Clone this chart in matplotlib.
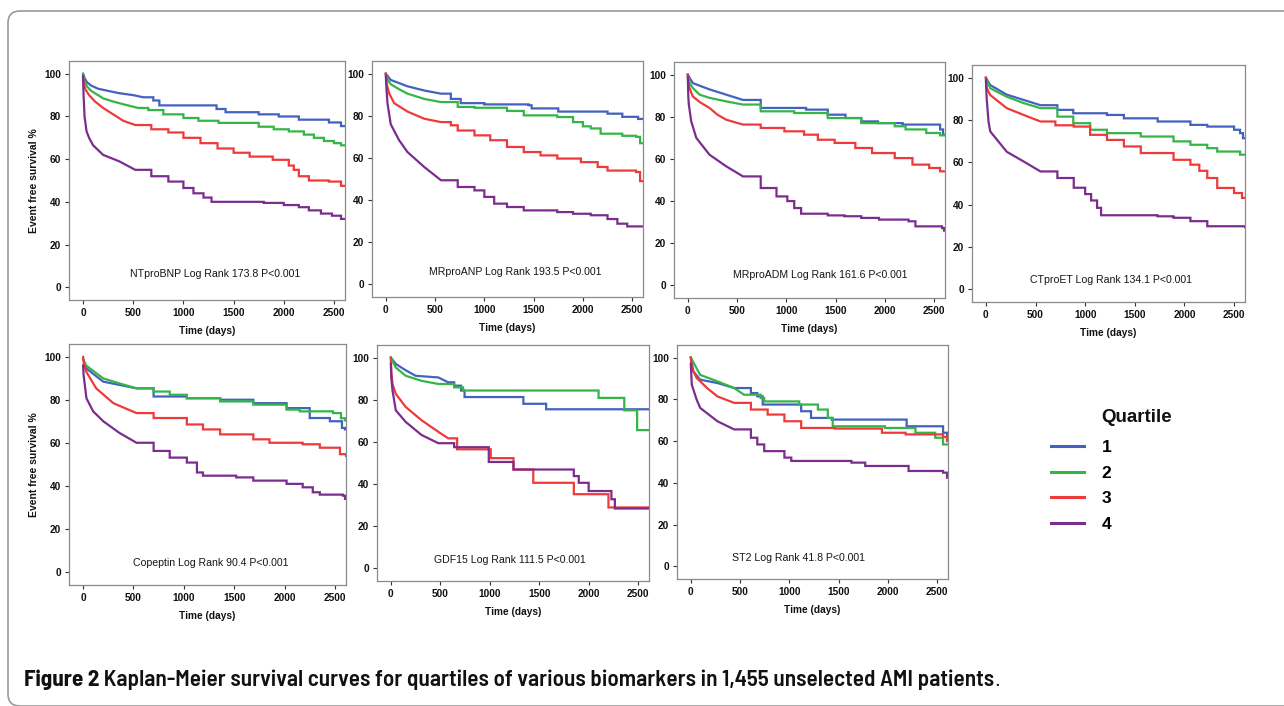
import os
import matplotlib
matplotlib.use("Agg")
import matplotlib.pyplot as plt
from matplotlib.patches import FancyBboxPatch
from matplotlib.transforms import IdentityTransform
from matplotlib import font_manager
from matplotlib.font_manager import FontProperties

plt.rcParams['font.family'] = ['Liberation Sans', 'DejaVu Sans']

W, H = 1284, 706

QUARTILES = ['1', '2', '3', '4']
COLORS = ['#4262bd', '#35b548', '#ee3a3a', '#7b2d8e']

PANEL_TEXT = [
    'NTproBNP Log Rank 173.8 P<0.001',
    'MRproANP Log Rank 193.5 P<0.001',
    'MRproADM Log Rank 161.6 P<0.001',
    'CTproET Log Rank 134.1 P<0.001',
    'Copeptin Log Rank 90.4 P<0.001',
    'GDF15 Log Rank 111.5 P<0.001',
    'ST2 Log Rank 41.8 P<0.001',
]

X_TICKS = [0, 500, 1000, 1500, 2000, 2500]
Y_TICKS = [0, 20, 40, 60, 80, 100]
X_LABEL = 'Time (days)'
Y_LABEL = 'Event free survival %'
LEGEND_TITLE = 'Quartile'
CAPTION_BOLD = 'Figure 2'
CAPTION_REST = ' Kaplan-Meier survival curves for quartiles of various biomarkers in 1,455 unselected AMI patients'

# (time in days, event free survival %) points
NTPROBNP_Q1 = [(0,100),(15,98),(40,96),(80,94.5),(150,93),(250,92),(350,91),(500,90),(600,89),(700,87.5),(760,85.2),(1330,83.5),(1420,82),(1750,81),(1950,80),(2150,78.5),(2450,77.2),(2570,75.5),(2610,75.5)]
NTPROBNP_Q2 = [(0,100),(10,97),(40,94),(80,92),(150,90),(200,88.5),(300,87),(420,85.5),(550,84),(650,83),(800,81),(1000,79.3),(1150,78),(1350,77),(1750,75.2),(1900,74),(2050,73),(2200,71.5),(2300,70),(2400,68.5),(2500,67.5),(2570,66.5),(2610,66.5)]
NTPROBNP_Q3 = [(0,98),(5,96),(20,93),(60,90),(120,87),(200,84),(300,81),(400,78),(520,76),(680,74),(850,72.5),(1000,70),(1170,67.5),(1340,65),(1500,63),(1660,61.2),(1890,59.7),(2050,57),(2100,55),(2150,52),(2250,50),(2450,49.5),(2570,47.5),(2610,47.5)]
NTPROBNP_Q4 = [(0,99),(5,90),(15,80),(35,73),(60,70),(100,66.5),(200,62),(360,59),(520,55),(680,52),(850,49.5),(1000,46.5),(1100,44),(1200,42),(1280,40),(1800,39.5),(2000,38.5),(2150,37.5),(2250,36),(2370,34.5),(2480,33.5),(2570,32),(2610,32)]

MRPROANP_Q1 = [(0,100),(50,97),(220,94),(390,92),(560,90.5),(660,88),(760,86),(1000,85.4),(1450,85),(1480,83.5),(1750,82),(2250,81),(2400,79.5),(2560,78.5),(2610,78.5)]
MRPROANP_Q2 = [(0,100),(20,97),(50,95),(120,93),(220,90.5),(390,88),(560,86.5),(730,84.2),(900,83.8),(1230,82.3),(1400,80.2),(1740,79.4),(1900,77),(2000,75),(2080,74),(2180,71.5),(2400,70.5),(2540,70),(2580,67),(2610,67)]
MRPROANP_Q3 = [(0,100),(10,95),(35,90.5),(85,86),(220,82),(390,78.6),(560,77),(660,75.5),(730,73),(900,70.7),(1060,68.4),(1230,65.2),(1400,62.8),(1570,61.2),(1740,59.7),(1980,58),(2150,55.7),(2250,54),(2540,53.3),(2580,49),(2610,49)]
MRPROANP_Q4 = [(0,99),(8,92),(17,86),(50,76),(135,68.4),(220,62.8),(390,55.7),(560,49.4),(730,46.2),(900,44.6),(1000,41.5),(1100,38.3),(1230,36.7),(1400,35.1),(1740,34.3),(1900,33.5),(2080,32.8),(2250,31),(2350,28.8),(2450,27.5),(2610,27.5)]

MRPROADM_Q1 = [(0,100),(50,96),(220,93),(390,90.5),(560,88),(740,84.2),(1200,83.4),(1420,81),(1600,79.4),(1760,77.8),(1930,77),(2180,76.3),(2560,74),(2590,71.5),(2610,71.5)]
MRPROADM_Q2 = [(0,100),(20,96),(50,93.7),(120,90.5),(220,89),(390,87.3),(560,85.8),(740,82.6),(1080,81.8),(1420,79.4),(1760,77),(2100,75.5),(2210,74),(2420,72.3),(2560,71.2),(2610,71.2)]
MRPROADM_Q3 = [(0,100),(5,96),(17,93.7),(50,89.7),(120,87),(220,84.2),(300,81),(390,78.6),(560,76.3),(740,74.7),(980,73.1),(1180,71.5),(1320,69.1),(1490,67.6),(1700,65.2),(1870,62.8),(2100,60.4),(2280,57.3),(2450,55.7),(2560,54.1),(2610,54.1)]
MRPROADM_Q4 = [(0,99),(5,90),(10,86),(34,78),(86,70),(220,62),(390,56.5),(560,51.7),(740,46.2),(900,42.2),(1010,40),(1080,36.7),(1150,34),(1420,33.2),(1590,32.8),(1760,32),(1940,31.2),(2240,30.4),(2310,28),(2580,27.2),(2600,26),(2610,26)]

CTPROET_Q1 = [(0,100),(44,96.5),(210,92),(380,89.5),(550,87),(720,84.8),(880,83.2),(1220,82.4),(1390,80.8),(1730,79.3),(2060,77.7),(2230,76.9),(2500,75.4),(2560,73.8),(2590,71.4),(2610,71.4)]
CTPROET_Q2 = [(0,100),(44,95),(210,91),(380,88),(550,85.6),(720,81.6),(880,78.5),(1050,75.4),(1220,73.8),(1560,72.2),(1890,69.9),(2060,68.3),(2230,66.7),(2330,65.1),(2560,63.6),(2610,63.6)]
CTPROET_Q3 = [(0,100),(10,95),(44,91.8),(210,85.6),(380,82.4),(550,79.3),(700,77.5),(885,76.9),(1050,73),(1220,70.6),(1390,67.5),(1560,64.4),(1890,61.2),(2060,58.9),(2150,56),(2230,52.6),(2330,47.9),(2500,45.5),(2580,43.2),(2610,43.2)]
CTPROET_Q4 = [(0,99),(8,90),(27,79),(44,74.6),(210,65),(380,60.4),(550,55.7),(720,52.6),(885,48),(1000,45),(1060,42),(1120,38.5),(1160,35),(1730,34.5),(1890,33.8),(2060,32.2),(2230,29.8),(2610,29.4)]

COPEPTIN_Q1 = [(0,99),(33,94.6),(200,88.5),(360,87),(530,85.4),(700,81.6),(1030,80.8),(1360,80.1),(1690,78.5),(2020,76.2),(2250,71.6),(2450,70.1),(2570,67),(2600,66.3),(2610,66.3)]
COPEPTIN_Q2 = [(0,99),(30,96),(200,90),(360,87.7),(530,85.4),(700,83.9),(860,82.4),(1030,80.8),(1360,79.3),(1690,77.8),(2020,75.5),(2150,74.7),(2480,73.9),(2560,71.5),(2600,70.5),(2610,70.5)]
COPEPTIN_Q3 = [(0,100),(10,96),(33,93),(130,85.4),(300,78.5),(530,73.9),(700,71.6),(1030,68.6),(1190,66.3),(1360,64),(1690,61.7),(1850,60.1),(2180,59.4),(2350,57.8),(2550,54.8),(2610,54)]
COPEPTIN_Q4 = [(0,96),(5,91.6),(33,80.8),(100,74.7),(200,70.1),(360,64.7),(530,60.1),(700,56.3),(860,53.2),(1030,50.9),(1130,46.3),(1190,44.8),(1520,44),(1690,42.5),(2020,41),(2180,39.4),(2280,37.1),(2350,36),(2580,35.5),(2600,34),(2610,34)]

GDF15_Q1 = [(0,100),(50,97),(150,94),(250,91.4),(480,90.6),(580,88.3),(640,86.7),(710,84.4),(745,81.3),(1340,78.1),(1570,75.5),(2610,75.5)]
GDF15_Q2 = [(0,100),(50,95.3),(150,91.4),(310,89),(480,87.5),(640,85.9),(730,84.4),(2100,80.9),(2360,75),(2490,65.6),(2610,65.6)]
GDF15_Q3 = [(0,100),(5,93),(17,87.5),(50,82.8),(150,76.6),(310,70.3),(480,64.8),(580,61.7),(670,56.5),(1010,52.3),(1240,46.9),(1440,40.6),(1850,35.2),(2200,28.9),(2610,28.9)]
GDF15_Q4 = [(0,97),(5,90),(17,84.4),(50,75),(150,69.5),(310,63.3),(480,59.4),(640,57.5),(990,50.5),(1240,46.9),(1850,43.8),(1900,40.6),(2000,36.7),(2230,32.8),(2265,28.4),(2610,28.4)]

ST2_Q1 = [(0,100),(27,93.3),(95,89.4),(270,87.8),(440,85.4),(610,83),(675,81.4),(730,77.5),(1120,74.3),(1220,71.1),(1430,70.3),(2190,67.1),(2560,64),(2600,63),(2610,63)]
ST2_Q2 = [(0,100),(95,91.7),(270,88.6),(440,85.4),(540,82.2),(710,80.6),(745,79),(1100,77.5),(1290,75.1),(1390,71.1),(1440,67.1),(1970,66.3),(2280,64),(2480,61.6),(2560,58.4),(2610,58.4)]
ST2_Q3 = [(0,100),(10,95),(60,90.2),(165,85.4),(270,81.4),(440,78.3),(610,75.1),(780,72.7),(950,69.5),(1120,66.3),(1460,66),(1940,64),(2180,63.2),(2560,62),(2600,60),(2610,60)]
ST2_Q4 = [(0,97),(10,87),(60,79.8),(95,75.9),(270,69.5),(440,65.6),(610,61.6),(675,58.4),(745,55.2),(950,52.1),(1020,50.5),(1630,49.7),(1770,48.1),(2210,45.7),(2560,44.9),(2600,42.5),(2610,42.5)]

PANEL_SERIES = [
    [NTPROBNP_Q1, NTPROBNP_Q2, NTPROBNP_Q3, NTPROBNP_Q4],
    [MRPROANP_Q1, MRPROANP_Q2, MRPROANP_Q3, MRPROANP_Q4],
    [MRPROADM_Q1, MRPROADM_Q2, MRPROADM_Q3, MRPROADM_Q4],
    [CTPROET_Q1, CTPROET_Q2, CTPROET_Q3, CTPROET_Q4],
    [COPEPTIN_Q1, COPEPTIN_Q2, COPEPTIN_Q3, COPEPTIN_Q4],
    [GDF15_Q1, GDF15_Q2, GDF15_Q3, GDF15_Q4],
    [ST2_Q1, ST2_Q2, ST2_Q3, ST2_Q4],
]

# layout: axes boxes in pixels (left, top, right, bottom), text anchor fractions
BOXES = [(69, 61, 345, 300), (372, 61, 643, 297), (674, 62, 945, 298), (972, 65, 1245, 302),
         (69, 344, 346, 585), (377, 345, 649, 581), (677, 345, 948, 579)]
TEXT_POS = [(0.53, 0.11), (0.53, 0.105), (0.54, 0.097), (0.51, 0.093),
            (0.51, 0.09), (0.49, 0.089), (0.45, 0.09)]
SHOW_YLABEL = [True, False, False, False, True, False, False]
XLIM = (-140, 2610)
YLIM = (-6, 106)
SMOOTH_UNTIL = 600  # dense early part drawn as a continuous curve, later part as steps


def km_path(pts):
    xs, ys = [pts[0][0]], [pts[0][1]]
    for (t0, v0), (t1, v1) in zip(pts[:-1], pts[1:]):
        if t1 <= SMOOTH_UNTIL:
            xs.append(t1); ys.append(v1)
        else:
            xs += [t1, t1]; ys += [v0, v1]
    return xs, ys


def pick_caption_fonts():
    """Find a semi-condensed sans face (bold + semibold) if installed."""
    prefer = ['Noto', 'Open', 'Roboto', 'Liberation', 'Inter', 'Lato']
    cands = []
    for f in font_manager.fontManager.ttflist:
        base = os.path.basename(f.fname)
        low = base.lower()
        if 'italic' in low or 'oblique' in low:
            continue
        if 'extracondensed' in low or 'ultracondensed' in low or 'extra' in low.replace('extrabold', ''):
            continue
        if 'semicondensed' in low:
            sw = 0
        elif 'condensed' in low or 'narrow' in low:
            sw = 1
        else:
            continue
        if 'semibold' in low or 'demibold' in low:
            w = 600
        elif 'extrabold' in low or 'black' in low:
            w = 800
        elif 'bold' in low:
            w = 700
        else:
            w = 400
        rank = next((i for i, p in enumerate(prefer) if base.startswith(p)), len(prefer))
        cands.append((sw, rank, w, f.fname))
    bold = sorted(c for c in cands if c[2] == 700)
    semib = sorted(c for c in cands if c[2] == 600)
    fb = bold[0][3] if bold else None
    fs = None
    if semib and fb:
        same = [c for c in semib if c[0] == bold[0][0] and c[1] == bold[0][1]]
        fs = (same[0] if same else semib[0])[3]
    return fb, fs or fb


fig = plt.figure(figsize=(W / 100, H / 100), dpi=100)
fig.patch.set_facecolor('white')

SPINE = '#8a8a8a'
legend_handles = None
for i, (series, box) in enumerate(zip(PANEL_SERIES, BOXES)):
    l, t, r, b = box
    ax = fig.add_axes([l / W, 1 - b / H, (r - l) / W, (b - t) / H])
    handles = []
    for q, (pts, col) in enumerate(zip(series, COLORS)):
        xs, ys = km_path(pts)
        h, = ax.plot(xs, ys, color=col, lw=1.6, label=QUARTILES[q],
                     solid_joinstyle='miter')
        handles.append(h)
    if legend_handles is None:
        legend_handles = handles
    ax.set_xlim(*XLIM)
    ax.set_ylim(*YLIM)
    ax.set_xticks(X_TICKS)
    ax.set_yticks(Y_TICKS)
    ax.tick_params(axis='both', direction='out', length=3, width=0.8, color='#333333',
                   labelsize=7.3, pad=2.5, top=False, right=False)
    for lab in ax.get_xticklabels() + ax.get_yticklabels():
        lab.set_fontweight('bold')
        lab.set_color('#111111')
    for sp in ax.spines.values():
        sp.set_color(SPINE)
        sp.set_linewidth(0.9)
    ax.set_xlabel(X_LABEL, fontsize=7.3, fontweight='bold', labelpad=6.2, color='#111111')
    if SHOW_YLABEL[i]:
        ax.set_ylabel(Y_LABEL, fontsize=7.5, fontweight='bold', labelpad=4, color='#111111')
    tx, ty = TEXT_POS[i]
    ax.text(tx, ty, PANEL_TEXT[i], transform=ax.transAxes, ha='center', va='center',
            fontsize=7.6, color='#151515')

# legend
leg = fig.legend(legend_handles, QUARTILES, loc='upper left',
                 bbox_to_anchor=(1039 / W, 1 - 428 / H), frameon=False,
                 prop={'weight': 'bold', 'size': 12.5}, handlelength=1.9,
                 handletextpad=1.0, labelspacing=0.6, borderpad=0.2)
for lh in leg.get_lines():
    lh.set_linewidth(2.2)
fig.text(1101 / W, 1 - 418 / H, LEGEND_TITLE, fontsize=13.5, fontweight='bold',
         ha='left', va='center', color='#111111')

# outer rounded frame
frame = FancyBboxPatch((8, 0), 1320, 706 - 11, boxstyle='round,pad=0,rounding_size=12',
                       transform=IdentityTransform(), fill=False, ec='#9a9a9a', lw=1.2)
fig.add_artist(frame)

# caption
f_bold, f_semi = pick_caption_fonts()
BASE = 14
if f_bold:
    fp1 = FontProperties(fname=f_bold, size=BASE)
    fp2 = FontProperties(fname=f_semi, size=BASE)
else:
    fp1 = FontProperties(family=['Liberation Sans', 'DejaVu Sans'], weight='bold', size=BASE)
    fp2 = fp1.copy()
fp3 = FontProperties(family=['Liberation Sans', 'DejaVu Sans'], size=BASE)
Y_CAP = 1 - 686 / H
c1 = fig.text(24 / W, Y_CAP, CAPTION_BOLD, fontproperties=fp1, ha='left', va='baseline',
              color='#111111')
c2 = fig.text(0, Y_CAP, CAPTION_REST, fontproperties=fp2, ha='left', va='baseline',
              color='#111111')
fig.canvas.draw()
r = fig.canvas.get_renderer()
w1 = c1.get_window_extent(r).width
w2 = c2.get_window_extent(r).width
scale = (992 - 24) / (w1 + w2)
for c in (c1, c2):
    c.set_fontsize(BASE * scale)
fig.canvas.draw()
bb1 = c1.get_window_extent(r)
c2.set_position((bb1.x1 / W, Y_CAP))
fig.canvas.draw()
bb2 = c2.get_window_extent(r)
fp3.set_size(BASE * scale * 0.9)
fig.text(bb2.x1 / W, Y_CAP, '.', fontproperties=fp3, ha='left', va='baseline', color='#111111')

fig.savefig('out.png', dpi=100, facecolor='white')
